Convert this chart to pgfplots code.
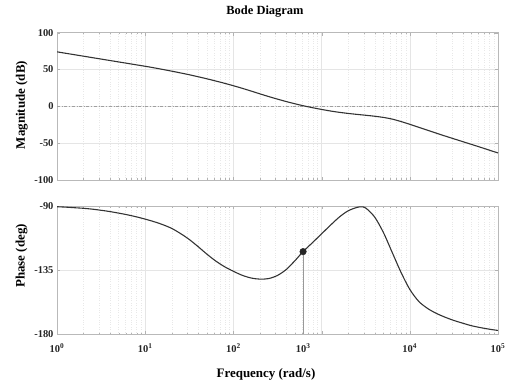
\documentclass[border=0pt]{standalone}
\usepackage{pgfplots}
\pgfplotsset{compat=1.18}
\usepackage{fontspec}
\setmainfont{Liberation Serif}
\pgfplotsset{
 bode/.style={
  scale only axis, width=441bp, xmin=1, xmax=1e5,
  axis line style={draw=gray!55},
  tick style={draw=gray!60},
  major tick length=3bp, minor tick length=1.8bp,
  grid=both,
  major grid style={draw=gray!20, line width=0.5pt},
  minor grid style={draw=gray!18, dotted, line width=0.35pt},
  xtick={1,10,100,1000,10000,100000},
  tick label style={font=\bfseries\fontsize{10.5}{12}\selectfont, text=black!85},
 }
}
\begin{document}
\begin{tikzpicture}
\begin{semilogxaxis}[bode, name=mag, at={(0,0)}, anchor=south west, height=147.3bp,
  ymin=-100, ymax=100, ytick={-100,-50,0,50,100}, yticklabels={-100,-50,0,50,100},
  xticklabels={}]
\addplot[gray!75, dashdotted, line width=0.5pt] coordinates {(1,0) (100000,0)};
\addplot[black!80, line width=1.1pt, smooth] coordinates {
(1,74.0) (3.1623,64.2)
(1e1,54.4) (1.2589e1,52.3) (1.5849e1,50.1) (1.9953e1,47.8) (2.5119e1,45.4) (3.1623e1,42.9) (3.9811e1,40.2) (5.0119e1,37.4) (6.3096e1,34.4) (7.9433e1,31.3)
(1e2,28.0) (1.2589e2,24.5) (1.5849e2,20.8) (1.9953e2,17.0) (2.5119e2,13.3) (3.1623e2,9.8) (3.9811e2,6.5) (5.0119e2,3.4) (6.3096e2,0.6) (7.9433e2,-1.9)
(1e3,-4.2) (1.2589e3,-6.3) (1.5849e3,-8.1) (1.9953e3,-9.6) (2.5119e3,-10.9) (3.1623e3,-12.1) (3.9811e3,-13.4) (5.0119e3,-15.0) (6.3096e3,-17.3) (7.9433e3,-20.6)
(1e4,-24.4) (1.2589e4,-28.4) (1.5849e4,-32.4) (1.9953e4,-36.4) (2.5119e4,-40.3) (3.1623e4,-44.1) (3.9811e4,-47.9) (5.0119e4,-51.7) (6.3096e4,-55.5) (7.9433e4,-59.4)
(1e5,-63.3)};
\end{semilogxaxis}
\begin{semilogxaxis}[bode, name=ph, at={(0,-154.3bp)}, anchor=south west, height=128.3bp,
  ymin=-180, ymax=-90, ytick={-180,-135,-90}, yticklabels={-180,-135,-90},
  xticklabels={10\textsuperscript{0},10\textsuperscript{1},10\textsuperscript{2},{},10\textsuperscript{4},10\textsuperscript{5}},
  extra x ticks={620}, extra x tick labels={10\textsuperscript{3}},
  extra x tick style={grid=none, major tick length=0pt},
  xticklabel style={yshift=-6bp}]
\addplot[black!80, line width=1.1pt, smooth] coordinates {
(1,-90.5) (1.2589,-90.8) (1.5849,-91.2) (1.9953,-91.6) (2.5119,-92.2) (3.1623,-93.0) (3.9811,-93.9) (5.0119,-95.0) (6.3096,-96.2) (7.9433,-97.6)
(1e1,-99.2) (1.2589e1,-101.0) (1.5849e1,-103.1) (1.9953e1,-105.7) (2.5119e1,-109.3) (3.1623e1,-113.5) (3.9811e1,-118.5) (5.0119e1,-123.8) (6.3096e1,-128.6) (7.9433e1,-132.6)
(1e2,-135.8) (1.2589e2,-138.6) (1.5849e2,-140.5) (1.9953e2,-141.3) (2.5119e2,-140.9) (3.1623e2,-138.7) (3.9811e2,-134.5) (5.0119e2,-128.2) (6.166e2,-122.0) (7.9433e2,-115.5)
(1e3,-109.5) (1.2589e3,-103.5) (1.5849e3,-97.8) (1.9953e3,-93.4) (2.5119e3,-91.0) (2.8184e3,-90.6) (3.1623e3,-91.4) (3.9811e3,-97.6) (5.0119e3,-108.5) (6.3096e3,-122.5) (7.9433e3,-136.5)
(1e4,-148.5) (1.2589e4,-156.8) (1.5849e4,-161.8) (1.9953e4,-165.3) (2.5119e4,-168.0) (3.1623e4,-170.3) (3.9811e4,-172.2) (5.0119e4,-174.0) (6.3096e4,-175.3) (7.9433e4,-176.4)
(1e5,-177.3)};
\addplot[gray!80, line width=0.5pt] coordinates {(616.6,-122.0) (616.6,-180)};
\addplot[only marks, mark=*, mark size=3.3bp, black!85] coordinates {(616.6,-122.0)};
\end{semilogxaxis}
\node[font=\bfseries\fontsize{12.5}{14}\selectfont] at (208bp,168bp) {Bode Diagram};
\node[font=\bfseries\fontsize{13}{15}\selectfont, rotate=90] at (-35.3bp,75bp) {Magnitude (dB)};
\node[font=\bfseries\fontsize{13}{15}\selectfont, rotate=90] at (-35.5bp,-76bp) {Phase (deg)};
\node[font=\bfseries\fontsize{13}{15}\selectfont] at (209bp,-194bp) {Frequency (rad/s)};
\pgfresetboundingbox
\path[use as bounding box] (-57bp,180bp) rectangle (459bp,-208bp);
\end{tikzpicture}
\end{document}
